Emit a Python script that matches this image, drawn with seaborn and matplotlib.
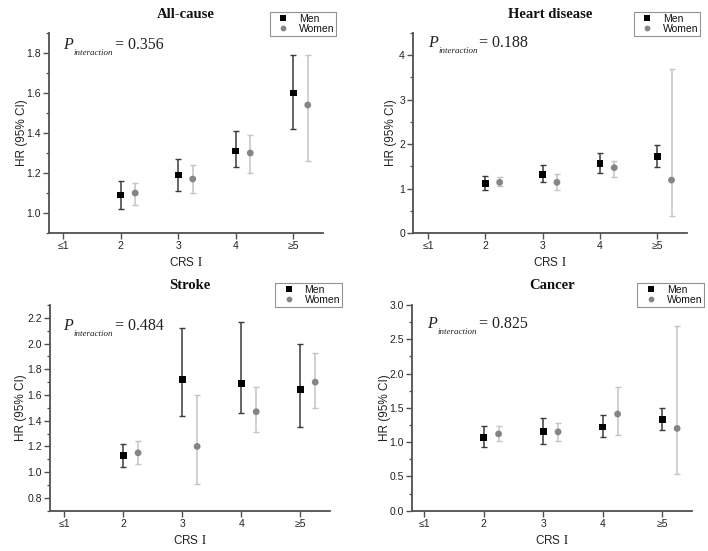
import matplotlib
matplotlib.use("Agg")
import matplotlib.pyplot as plt
import seaborn as sns
import pandas as pd
import numpy as np
from matplotlib.ticker import MultipleLocator, FixedLocator, FormatStrFormatter

sns.set_style("ticks")
plt.rcParams['font.family'] = ['Liberation Sans', 'DejaVu Sans']
plt.rcParams['mathtext.fontset'] = 'stix'

# ---------------- data ----------------
crs_labels = ["≤1", "2", "3", "4", "≥5"]
crs_levels = [2, 3, 4, 5]
sexes = ["Men", "Women"]

titles = ["All-cause", "Heart disease", "Stroke", "Cancer"]
p_values = ["0.356", "0.188", "0.484", "0.825"]

allcause_men_hr = [1.09, 1.19, 1.31, 1.60]
allcause_men_lo = [1.02, 1.11, 1.23, 1.42]
allcause_men_hi = [1.16, 1.27, 1.41, 1.79]
allcause_women_hr = [1.10, 1.17, 1.30, 1.54]
allcause_women_lo = [1.04, 1.10, 1.20, 1.26]
allcause_women_hi = [1.15, 1.24, 1.39, 1.79]

heart_men_hr = [1.12, 1.32, 1.57, 1.72]
heart_men_lo = [0.97, 1.14, 1.36, 1.48]
heart_men_hi = [1.29, 1.52, 1.80, 1.99]
heart_women_hr = [1.14, 1.14, 1.47, 1.19]
heart_women_lo = [1.05, 0.97, 1.27, 0.38]
heart_women_hi = [1.25, 1.33, 1.62, 3.70]

stroke_men_hr = [1.13, 1.72, 1.69, 1.64]
stroke_men_lo = [1.04, 1.44, 1.46, 1.35]
stroke_men_hi = [1.22, 2.12, 2.17, 2.00]
stroke_women_hr = [1.15, 1.20, 1.47, 1.70]
stroke_women_lo = [1.06, 0.91, 1.31, 1.50]
stroke_women_hi = [1.24, 1.60, 1.66, 1.93]

cancer_men_hr = [1.07, 1.15, 1.22, 1.33]
cancer_men_lo = [0.93, 0.98, 1.08, 1.17]
cancer_men_hi = [1.24, 1.35, 1.39, 1.50]
cancer_women_hr = [1.12, 1.15, 1.41, 1.20]
cancer_women_lo = [1.01, 1.02, 1.10, 0.54]
cancer_women_hi = [1.23, 1.28, 1.80, 2.69]

panels = [
    (allcause_men_hr, allcause_men_lo, allcause_men_hi, allcause_women_hr, allcause_women_lo, allcause_women_hi),
    (heart_men_hr, heart_men_lo, heart_men_hi, heart_women_hr, heart_women_lo, heart_women_hi),
    (stroke_men_hr, stroke_men_lo, stroke_men_hi, stroke_women_hr, stroke_women_lo, stroke_women_hi),
    (cancer_men_hr, cancer_men_lo, cancer_men_hi, cancer_women_hr, cancer_women_lo, cancer_women_hi),
]

# ---------------- styling ----------------
W, H = 708, 551
axes_px = [  # left, right, top, bottom in pixels
    (49.5, 323, 33, 233),
    (413.3, 687, 33, 233),
    (50, 330, 305, 510.7),
    (412.3, 692, 305, 510.7),
]
xlims = [(0.76, 5.515), (0.743, 5.52), (0.758, 5.50), (0.80, 5.50)]
ylims = [(0.9, 1.9), (0, 4.5), (0.7, 2.3), (0, 3.0)]
major = [0.2, 1, 0.2, 0.5]
fmts = ["%.1f", "%d", "%.1f", "%.1f"]
p_pos = [(0.05, 0.92), (0.054, 0.928), (0.048, 0.88), (0.054, 0.887)]
title_pad = [10.5, 10.5, 11.5, 11.5]
ylabel_x = [-0.080, -0.058, -0.083, -0.077]

offset = {"Men": 0.0, "Women": 0.25}
marker_col = {"Men": "#000000", "Women": "#858585"}
err_col = {"Men": "#3a3a3a", "Women": "#c4c4c4"}
markers = {"Men": "s", "Women": "o"}
spine_col = "#505050"
text_col = "#222222"

fig = plt.figure(figsize=(W / 100, H / 100), dpi=100)

for i, (vals, title, pv) in enumerate(zip(panels, titles, p_values)):
    l, r, t, b = axes_px[i]
    ax = fig.add_axes([l / W, 1 - b / H, (r - l) / W, (b - t) / H])
    mhr, mlo, mhi, whr, wlo, whi = vals
    rows = []
    for sex, hr, lo, hi in [("Men", mhr, mlo, mhi), ("Women", whr, wlo, whi)]:
        for lev, h_, lo_, hi_ in zip(crs_levels, hr, lo, hi):
            rows.append(dict(crs=lev, sex=sex, hr=h_, lo=lo_, hi=hi_))
    df = pd.DataFrame(rows)
    df["x"] = df["crs"] + df["sex"].map(offset)

    for sex in sexes:
        d = df[df.sex == sex]
        ax.errorbar(d["x"], d["hr"], yerr=[d["hr"] - d["lo"], d["hi"] - d["hr"]],
                    fmt="none", ecolor=err_col[sex], elinewidth=1.1, capsize=2.5,
                    capthick=1.0, zorder=2)
    sns.scatterplot(data=df, x="x", y="hr", hue="sex", style="sex",
                    palette=marker_col, markers=markers, s=24, edgecolor="none",
                    linewidth=0, ax=ax, zorder=3)

    ax.set_xlim(*xlims[i])
    ax.set_ylim(*ylims[i])
    ax.xaxis.set_major_locator(FixedLocator([1, 2, 3, 4, 5]))
    ax.set_xticklabels(crs_labels)
    ax.yaxis.set_major_locator(MultipleLocator(major[i]))
    ax.yaxis.set_minor_locator(MultipleLocator(major[i] / 2))
    ax.yaxis.set_major_formatter(FormatStrFormatter(fmts[i]))

    for side in ["top", "right"]:
        ax.spines[side].set_visible(False)
    for side in ["left", "bottom"]:
        ax.spines[side].set_color(spine_col)
        ax.spines[side].set_linewidth(1.3)
    ax.tick_params(axis="both", which="major", length=4, width=1.0, color=spine_col,
                   labelsize=7.5, labelcolor=text_col, pad=2)
    ax.tick_params(axis="y", which="minor", length=2.5, width=0.9, color=spine_col)

    ax.set_xlabel(r"CRS $\mathrm{I}$", fontsize=8.5, color=text_col, labelpad=3.5)
    ax.set_ylabel("HR (95% CI)", fontsize=8.5, color=text_col)
    ax.yaxis.set_label_coords(ylabel_x[i], 0.5)
    ax.set_title(title, fontfamily="Liberation Serif", fontweight="bold", fontsize=10.5,
                 pad=title_pad[i], color="#111111")

    # P_interaction annotation built from three pieces
    t1 = ax.text(p_pos[i][0], p_pos[i][1], "P", transform=ax.transAxes,
                 fontfamily="Liberation Serif", fontstyle="italic", fontsize=11.5,
                 va="baseline", ha="left", color=text_col)
    t2 = ax.annotate("interaction", xy=(1.0, 0.0), xycoords=t1,
                     xytext=(0.5, -1.5), textcoords="offset points",
                     fontfamily="Liberation Serif", fontstyle="italic", fontsize=6.5,
                     va="baseline", ha="left", color=text_col)
    ax.annotate("= " + pv, xy=(1.0, 0.0), xycoords=(t2, t1),
                xytext=(1.0, 0), textcoords="offset points",
                fontfamily="Liberation Serif", fontsize=11.5,
                va="bottom", ha="left", color=text_col)

    leg = ax.legend(loc="upper left", bbox_to_anchor=(0.805, 1.107), fontsize=7.5,
                    frameon=True, fancybox=False, edgecolor="#777777",
                    handletextpad=0.4, borderpad=0.2, labelspacing=0.0,
                    handlelength=2.2, markerscale=0.85, borderaxespad=0)
    leg.get_frame().set_linewidth(0.8)
    for txt in leg.get_texts():
        txt.set_color("#111111")

fig.savefig("out.png", dpi=100)
